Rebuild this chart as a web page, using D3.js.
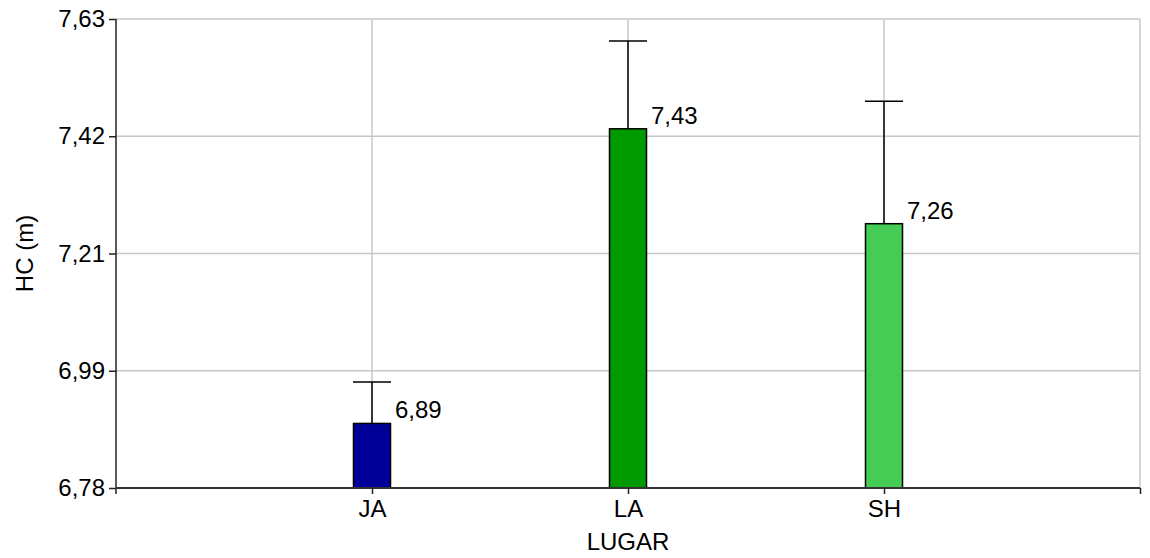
<!DOCTYPE html>
<html>
<head>
<meta charset="utf-8">
<script src="https://cdn.jsdelivr.net/npm/d3@7"></script>
<style>
  body { margin: 0; background: #fff; }
  text { font-family: "Liberation Sans", Arial, sans-serif; }
</style>
</head>
<body>
<script>
// data
lugares = ["JA", "LA", "SH"]
medias = [6.897, 7.431, 7.259]
erroSup = [6.972, 7.590, 7.481]
rotulos = ["6,89", "7,43", "7,26"]
yTicks = [6.78, 6.99, 7.21, 7.42, 7.63]
cores = ["#000099", "#009900", "#44cc55"]

width = 1150
height = 558
margin = {top: 19, right: 10, bottom: 70, left: 116}

x = d3.scaleLinear()
    .domain([0, lugares.length + 1])
    .range([margin.left, width - margin.right])

// ticks are evenly spaced between 6.78 and 7.63
y = d3.scaleLinear()
    .domain([6.78, 7.63])
    .range([height - margin.bottom, margin.top])

yPos = yTicks.map((t, i) => 6.78 + i * (7.63 - 6.78) / (yTicks.length - 1))

svg = d3.select("body").append("svg")
    .attr("width", width)
    .attr("height", height)

// grid
svg.append("g")
  .selectAll("line")
  .data(yPos.slice(1))
  .join("line")
    .attr("x1", x(0)).attr("x2", x(4))
    .attr("y1", d => y(d)).attr("y2", d => y(d))
    .attr("stroke", "#c8c8c8").attr("stroke-width", 1.5)

svg.append("g")
  .selectAll("line")
  .data([1, 2, 3, 4])
  .join("line")
    .attr("x1", d => x(d)).attr("x2", d => x(d))
    .attr("y1", y(7.63)).attr("y2", y(6.78))
    .attr("stroke", "#c8c8c8").attr("stroke-width", 1.5)

// bars
bw = 37
svg.append("g")
  .selectAll("rect")
  .data(lugares)
  .join("rect")
    .attr("x", (d, i) => x(i + 1) - bw / 2)
    .attr("y", (d, i) => y(medias[i]))
    .attr("width", bw)
    .attr("height", (d, i) => y(6.78) - y(medias[i]))
    .attr("fill", (d, i) => cores[i])
    .attr("stroke", "#000")
    .attr("stroke-width", 1.5)

// error bars
err = svg.append("g").attr("stroke", "#000").attr("stroke-width", 1.5)
err.selectAll("line.v")
  .data(lugares)
  .join("line")
    .attr("class", "v")
    .attr("x1", (d, i) => x(i + 1)).attr("x2", (d, i) => x(i + 1))
    .attr("y1", (d, i) => y(medias[i])).attr("y2", (d, i) => y(erroSup[i]))
err.selectAll("line.c")
  .data(lugares)
  .join("line")
    .attr("class", "c")
    .attr("x1", (d, i) => x(i + 1) - 19).attr("x2", (d, i) => x(i + 1) + 19)
    .attr("y1", (d, i) => y(erroSup[i])).attr("y2", (d, i) => y(erroSup[i]))

// value labels
svg.append("g")
  .selectAll("text")
  .data(rotulos)
  .join("text")
    .attr("x", (d, i) => x(i + 1) + 23)
    .attr("y", (d, i) => y(medias[i]) - 5)
    .attr("font-size", 24)
    .attr("fill", "#000")
    .text(d => d)

// y axis
yAxis = d3.axisLeft(y)
    .tickValues(yPos)
    .tickFormat((d, i) => yTicks[i].toFixed(2).replace(".", ","))
    .tickSize(7)
    .tickPadding(4)
svg.append("g")
    .attr("transform", `translate(${x(0)},0)`)
    .call(yAxis)
    .call(g => g.select(".domain").attr("d", `M0,${y(7.63)}V${y(6.78) + 6}`).attr("stroke", "#222").attr("stroke-width", 1.5))
    .call(g => g.selectAll(".tick line").attr("stroke", "#222").attr("stroke-width", 1.5))
    .call(g => g.selectAll(".tick text").attr("font-size", 24).attr("fill", "#000").attr("font-family", "Liberation Sans, Arial, sans-serif"))

// x axis
xAxis = d3.axisBottom(x)
    .tickValues([1, 2, 3, 4])
    .tickFormat(d => lugares[d - 1] || "")
    .tickSize(6)
    .tickPadding(6)
svg.append("g")
    .attr("transform", `translate(0,${y(6.78)})`)
    .call(xAxis)
    .call(g => g.select(".domain").attr("d", `M${x(0)},0H${x(4)}`).attr("stroke", "#333").attr("stroke-width", 2))
    .call(g => g.selectAll(".tick line").attr("stroke", "#222").attr("stroke-width", 1.5))
    .call(g => g.selectAll(".tick text").attr("font-size", 24).attr("fill", "#000").attr("font-family", "Liberation Sans, Arial, sans-serif"))

// axis titles
svg.append("text")
    .attr("x", x(2))
    .attr("y", 550)
    .attr("text-anchor", "middle")
    .attr("font-size", 24)
    .text("LUGAR")

svg.append("text")
    .attr("transform", `translate(33,${(y(6.78) + y(7.63)) / 2}) rotate(-90)`)
    .attr("text-anchor", "middle")
    .attr("font-size", 24)
    .text("HC (m)")
</script>
</body>
</html>
